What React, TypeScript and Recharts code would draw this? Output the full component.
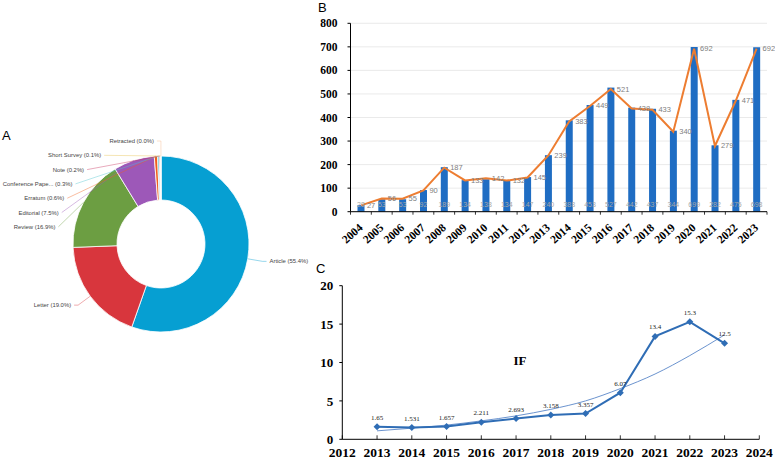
import React from "react";
import {
  Bar,
  Cell,
  CartesianGrid,
  ComposedChart,
  LabelList,
  Line,
  Pie,
  PieChart,
  XAxis,
  YAxis,
} from "recharts";

// A: document types (share, %)
const DOC_TYPES = [
  "Article",
  "Letter",
  "Review",
  "Editorial",
  "Erratum",
  "Conference Pape...",
  "Note",
  "Short Survey",
  "Retracted",
];
const DOC_SHARE = [55.4, 19.0, 16.9, 7.5, 0.6, 0.3, 0.2, 0.1, 0.02];
const DOC_COLORS = [
  "#069fd2",
  "#d8363d",
  "#6c9e42",
  "#9d58b8",
  "#f0601e",
  "#4fc6d0",
  "#c8325e",
  "#e8c04a",
  "#f5b688",
];

// B: yearly counts (bars + line)
const YEARS_B = [
  "2004", "2005", "2006", "2007", "2008", "2009", "2010", "2011", "2012", "2013",
  "2014", "2015", "2016", "2017", "2018", "2019", "2020", "2021", "2022", "2023",
];
const BAR_COUNTS = [28, 53, 53, 92, 189, 134, 138, 134, 147, 240, 388, 453, 527, 442, 437, 344, 699, 282, 475, 698];
const LINE_COUNTS = [27, 56, 55, 90, 187, 133, 142, 132, 145, 239, 383, 449, 521, 438, 433, 340, 692, 279, 471, 692];
const TICKS_B = [0, 100, 200, 300, 400, 500, 600, 700, 800];

// C: impact factor
const YEARS_C = [2013, 2014, 2015, 2016, 2017, 2018, 2019, 2020, 2021, 2022, 2023];
const IF_VALUES = [1.65, 1.531, 1.657, 2.211, 2.693, 3.158, 3.357, 6.07, 13.4, 15.3, 12.5];
const IF_TREND = [1.1, 1.45, 1.85, 2.4, 3.05, 3.9, 5.0, 6.6, 8.5, 10.9, 13.6];
const XTICKS_C = [2012, 2013, 2014, 2015, 2016, 2017, 2018, 2019, 2020, 2021, 2022, 2023, 2024];
const YTICKS_C = [0, 5, 10, 15, 20];

const SERIF = '"Liberation Serif", "Times New Roman", serif';
const SANS = '"Liberation Sans", Arial, sans-serif';

const docRows = DOC_TYPES.map((name, i) => ({ name, value: DOC_SHARE[i] }));
const rowsB = YEARS_B.map((year, i) => ({ year, bar: BAR_COUNTS[i], line: LINE_COUNTS[i] }));
const rowsC = YEARS_C.map((year, i) => ({ year, impact: IF_VALUES[i], trend: IF_TREND[i] }));

// pie geometry
const PIE = { cx: 161, cy: 244, inner: 44, outer: 88, bend: 103, textR: 107, gap: 14.3 };

// label layout: labels on the left are pushed down so they don't overlap
function pieLayout() {
  const total = DOC_SHARE.reduce((a, b) => a + b, 0);
  let acc = 0;
  const items = DOC_SHARE.map((v, i) => {
    const a0 = acc;
    acc += (v / total) * 360;
    const rad = (((a0 + acc) / 2) * Math.PI) / 180;
    const s = Math.sin(rad);
    const c = Math.cos(rad);
    return {
      i,
      ex: PIE.cx + PIE.outer * s,
      ey: PIE.cy - PIE.outer * c,
      nx: PIE.cx + PIE.bend * s,
      ny: PIE.cy - PIE.bend * c,
      ly: PIE.cy - PIE.bend * c,
      shifted: false,
    };
  });
  const left = items.filter((d) => d.nx < PIE.cx).sort((a, b) => a.ny - b.ny);
  let prev = -Infinity;
  left.forEach((d) => {
    const y = Math.max(d.ny, prev + PIE.gap, PIE.cy - PIE.bend);
    d.shifted = y - d.ny > 0.5;
    d.ly = y;
    prev = y;
  });
  return items;
}
const LAYOUT = pieLayout();

function renderPieLabel(props: any) {
  const d = LAYOUT[props.index];
  const color = DOC_COLORS[props.index];
  const text = `${DOC_TYPES[props.index]} (${DOC_SHARE[props.index].toFixed(1)}%)`;
  const isLeft = d.nx < PIE.cx;
  let pts: string;
  let tx: number;
  if (isLeft && d.shifted) {
    const dy = d.ly - PIE.cy;
    tx = PIE.cx - Math.sqrt(Math.max(0, PIE.textR * PIE.textR - dy * dy));
    pts = `${d.ex},${d.ey} ${tx + 3},${d.ly}`;
  } else if (isLeft) {
    tx = d.nx - 7;
    pts = `${d.ex},${d.ey} ${d.nx},${d.ny} ${d.nx - 4},${d.ny}`;
  } else {
    tx = d.nx + 7;
    pts = `${d.ex},${d.ey} ${d.nx},${d.ny} ${d.nx + 4},${d.ny}`;
  }
  return (
    <g key={`pl${props.index}`}>
      <polyline points={pts} fill="none" stroke={color} strokeOpacity={0.7} strokeWidth={0.6} />
      <text
        x={tx}
        y={d.ly + 2}
        textAnchor={isLeft ? "end" : "start"}
        fontSize={5.9}
        fontFamily={SANS}
        fill="#444"
      >
        {text}
      </text>
    </g>
  );
}

// B layout
const B_W = 475;
const B_H = 260;
const B_YW = 50.5;
const B_RIGHT = 8;
const B_AXIS_Y = 211.7;
const BAND_B = (B_W - B_YW - B_RIGHT) / YEARS_B.length;

function YearTickB(props: any) {
  const { x, payload, index } = props;
  const ax = x + 2.5;
  const ay = B_AXIS_Y + 17;
  return (
    <g>
      <line x1={x - BAND_B / 2} x2={x - BAND_B / 2} y1={B_AXIS_Y} y2={B_AXIS_Y + 3} stroke="#000" strokeWidth={0.8} />
      {index === YEARS_B.length - 1 && (
        <line x1={x + BAND_B / 2} x2={x + BAND_B / 2} y1={B_AXIS_Y} y2={B_AXIS_Y + 3} stroke="#000" strokeWidth={0.8} />
      )}
      <text
        x={ax}
        y={ay}
        transform={`rotate(-42 ${ax} ${ay})`}
        textAnchor="end"
        fontSize={11.5}
        fontWeight={700}
        fontFamily={SERIF}
        fill="#000"
      >
        {payload.value}
      </text>
    </g>
  );
}

function renderBarBase(props: any) {
  const { x, y, width, height, value } = props;
  return (
    <text
      x={x + width / 2}
      y={y + height - 5}
      textAnchor="middle"
      fontSize={7}
      fontFamily={SANS}
      fill="#a8a8a8"
    >
      {value}
    </text>
  );
}

function renderLineLabel(props: any) {
  const { x, y, value } = props;
  return (
    <text x={x + 6} y={y + 2.5} fontSize={7.5} fontFamily={SANS} fill="#808080">
      {value}
    </text>
  );
}

// C layout
const C_H = 191;
const C_XH = 21.7;
const C_AXIS_Y = C_H - C_XH;

function YearTickC(props: any) {
  const { x, payload } = props;
  return (
    <g>
      <line x1={x} x2={x} y1={C_AXIS_Y} y2={C_AXIS_Y - 4} stroke="#000" strokeWidth={0.8} />
      <text
        x={x}
        y={C_AXIS_Y + 18}
        textAnchor="middle"
        fontSize={13.5}
        fontWeight={700}
        fontFamily={SERIF}
        fill="#000"
      >
        {payload.value}
      </text>
    </g>
  );
}

function renderDiamond(p: any) {
  const r = 3.5;
  return (
    <path
      key={`dm${p.index}`}
      d={`M${p.cx},${p.cy - r} L${p.cx + r},${p.cy} L${p.cx},${p.cy + r} L${p.cx - r},${p.cy} Z`}
      fill="#2f6db5"
    />
  );
}

function renderIfLabel(props: any) {
  const { x, y, value } = props;
  return (
    <text x={x} y={y - 7} textAnchor="middle" fontSize={7} fontFamily={SERIF} fill="#222" stroke="none">
      {value}
    </text>
  );
}

export default function App() {
  return (
    <div style={{ position: "absolute", left: 0, top: 0, width: 775, height: 461, background: "#fff" }}>
      <div style={{ position: "absolute", left: 0, top: 0 }}>
        <PieChart width={320} height={461} margin={{ top: 0, right: 0, bottom: 0, left: 0 }}>
          <Pie
            data={docRows}
            dataKey="value"
            nameKey="name"
            cx={PIE.cx}
            cy={PIE.cy}
            innerRadius={PIE.inner}
            outerRadius={PIE.outer}
            startAngle={90}
            endAngle={-270}
            stroke="#fff"
            strokeWidth={0.8}
            label={renderPieLabel}
            labelLine={false}
            isAnimationActive={false}
          >
            {docRows.map((r, i) => (
              <Cell key={r.name} fill={DOC_COLORS[i]} />
            ))}
          </Pie>
        </PieChart>
      </div>

      <div style={{ position: "absolute", left: 300, top: 0 }}>
        <ComposedChart
          width={B_W}
          height={B_H}
          data={rowsB}
          margin={{ top: 23.3, right: B_RIGHT, left: 0, bottom: 3 }}
        >
          <CartesianGrid vertical={false} stroke="#e4e4e4" strokeWidth={0.8} />
          <XAxis
            dataKey="year"
            interval={0}
            height={45.3}
            axisLine={{ stroke: "#000" }}
            tickLine={false}
            tick={<YearTickB />}
          />
          <YAxis
            domain={[0, 800]}
            ticks={TICKS_B}
            interval={0}
            width={B_YW}
            axisLine={{ stroke: "#000" }}
            tickLine={{ stroke: "#000" }}
            tickSize={3}
            tickMargin={10}
            tick={{ fill: "#000", fontSize: 11.5, fontFamily: SERIF, fontWeight: 700 }}
          />
          <Bar dataKey="bar" fill="#1f6dc3" barSize={7} isAnimationActive={false}>
            <LabelList dataKey="bar" content={renderBarBase} />
          </Bar>
          <Line
            dataKey="line"
            type="linear"
            stroke="#ed7d31"
            strokeWidth={2}
            dot={false}
            isAnimationActive={false}
          >
            <LabelList dataKey="line" content={renderLineLabel} />
          </Line>
        </ComposedChart>
      </div>

      <div style={{ position: "absolute", left: 300, top: 270 }}>
        <ComposedChart
          width={475}
          height={C_H}
          data={rowsC}
          margin={{ top: 15.7, right: 15.7, left: 0, bottom: 0 }}
        >
          <XAxis
            type="number"
            dataKey="year"
            domain={[2012, 2024]}
            ticks={XTICKS_C}
            interval={0}
            height={C_XH}
            axisLine={{ stroke: "#000" }}
            tickLine={false}
            tick={<YearTickC />}
          />
          <YAxis
            domain={[0, 20]}
            ticks={YTICKS_C}
            interval={0}
            width={42.3}
            axisLine={{ stroke: "#000" }}
            tickLine={{ stroke: "#000" }}
            tickSize={3}
            tickMargin={6}
            tick={{ fill: "#000", fontSize: 13, fontFamily: SERIF, fontWeight: 700 }}
          />
          <Line
            dataKey="trend"
            type="monotone"
            stroke="#5a87c8"
            strokeWidth={0.9}
            dot={false}
            isAnimationActive={false}
          />
          <Line
            dataKey="impact"
            type="linear"
            stroke="#2f6db5"
            strokeWidth={2}
            dot={renderDiamond}
            isAnimationActive={false}
          >
            <LabelList dataKey="impact" content={renderIfLabel} />
          </Line>
        </ComposedChart>
      </div>

      <svg
        width={775}
        height={461}
        style={{ position: "absolute", left: 0, top: 0, pointerEvents: "none" }}
      >
        <text x={2} y={140} fontSize={13} fontFamily={SANS} fill="#000">A</text>
        <text x={318} y={12} fontSize={13} fontFamily={SANS} fill="#000">B</text>
        <text x={316} y={273} fontSize={13} fontFamily={SANS} fill="#000">C</text>
        <text x={520} y={365} textAnchor="middle" fontSize={13} fontWeight={700} fontFamily={SERIF} fill="#000">IF</text>
      </svg>
    </div>
  );
}
